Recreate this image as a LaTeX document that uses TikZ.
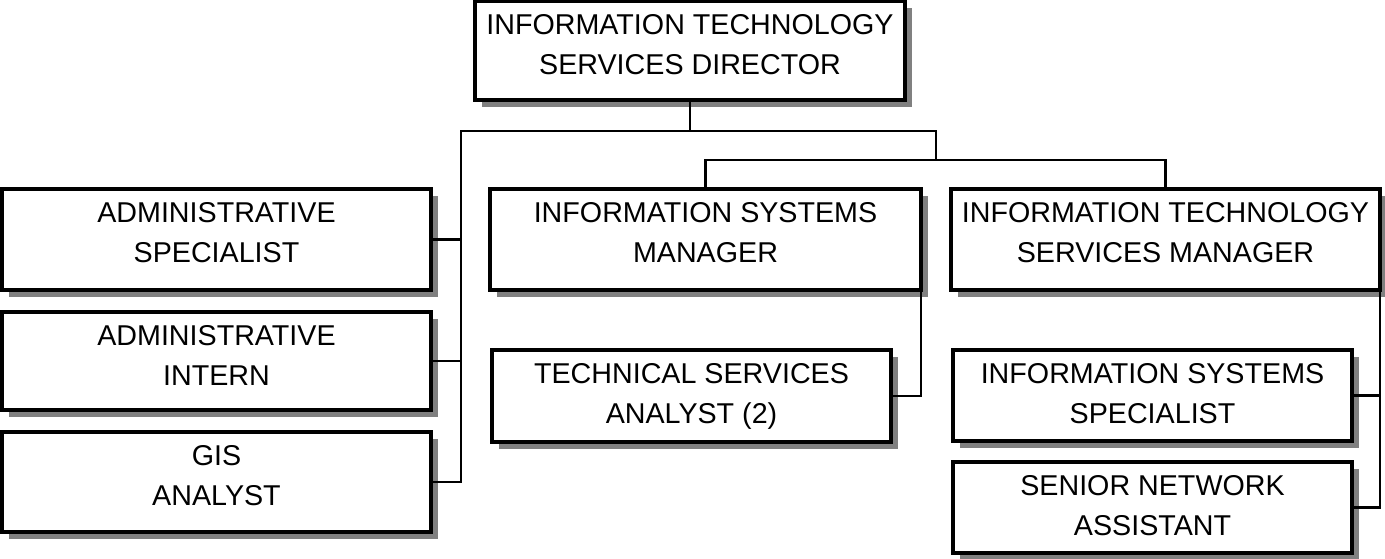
\documentclass[tikz,border=0pt]{standalone}
\usepackage{fontspec}
\setmainfont{Liberation Sans}
\usepackage{tikz}
\usetikzlibrary{fit,shadows}

\begin{document}
\begin{tikzpicture}[x=0.75pt,y=-0.75pt,
		box/.style={draw, line width=2.3pt, fill=white, inner sep=0pt, outer sep=0pt,
			drop shadow={shadow xshift=5pt, shadow yshift=-5pt, fill=gray, opacity=1}},
		lbl/.style={anchor=base, align=center, inner sep=0pt,
			font=\fontsize{21.5}{30}\selectfont},
		conn/.style={line width=1.8pt}]
		\useasboundingbox (0,0) rectangle (1385,558);
		\node[box, fit={(475,1.5) (905,100)}] (dir) {};
		\node[box, fit={(2,189) (431,290)}] (adsp) {};
		\node[box, fit={(2,312) (431,410)}] (adin) {};
		\node[box, fit={(2,432) (431,532)}] (gis) {};
		\node[box, fit={(490,189) (921,290)}] (ism) {};
		\node[box, fit={(492,350) (891,442)}] (tsa) {};
		\node[box, fit={(951,189) (1380,290)}] (itsm) {};
		\node[box, fit={(953,350) (1352,441)}] (iss) {};
		\node[box, fit={(953,462) (1352,553)}] (sna) {};
		\node[lbl] (dir-t) at (690,74) {INFORMATION TECHNOLOGY\\SERVICES DIRECTOR};
		\node[lbl] (adsp-t) at (216.5,262) {ADMINISTRATIVE\\SPECIALIST};
		\node[lbl] (adin-t) at (216.5,385) {ADMINISTRATIVE\\INTERN};
		\node[lbl] (gis-t) at (216.5,505) {GIS\\ANALYST};
		\node[lbl] (ism-t) at (705.5,262) {INFORMATION SYSTEMS\\MANAGER};
		\node[lbl] (tsa-t) at (691.5,423) {TECHNICAL SERVICES\\ANALYST (2)};
		\node[lbl] (itsm-t) at (1165.5,262) {INFORMATION TECHNOLOGY\\SERVICES MANAGER};
		\node[lbl] (iss-t) at (1152.5,423) {INFORMATION SYSTEMS\\SPECIALIST};
		\node[lbl] (sna-t) at (1152.5,535) {SENIOR NETWORK\\ASSISTANT};
		\coordinate (busl) at (461,131);
		\coordinate (busr) at (936,131);
		\coordinate (subbus) at (936,160);
		\draw[conn] (dir.south) |- (busl) |- (gis.east);
		\draw[conn] (dir.south) |- (busr) -- (subbus);
		\draw[conn] (adsp.east) -- (adsp.east -| busl);
		\draw[conn] (adin.east) -- (adin.east -| busl);
		\draw[conn] (ism.north) |- (subbus) -| (itsm.north);
		\draw[conn] (ism.south east) |- (tsa.east);
		\draw[conn] (itsm.south east) |- (sna.east);
		\draw[conn] (iss.east) -- (iss.east -| itsm.south east);
		\end{tikzpicture}
\end{document}
